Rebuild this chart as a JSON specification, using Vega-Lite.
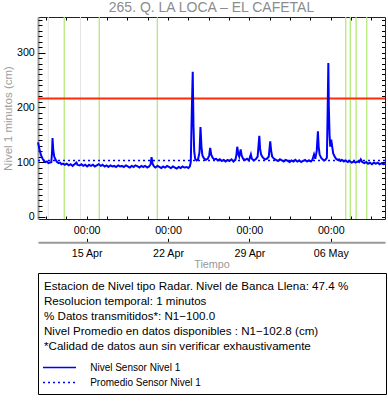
{
  "$schema": "https://vega.github.io/schema/vega-lite/v6.json",
  "width": 347,
  "height": 202,
  "autosize": {"type": "none"},
  "padding": {"left": 38, "top": 17, "right": 3, "bottom": 185},
  "title": {"text": "265. Q. LA LOCA – EL CAFETAL", "frame": "group", "anchor": "middle", "offset": 1, "fontSize": 14, "fontWeight": "normal", "color": "#8c8c8c", "font": "Liberation Sans"},
  "datasets": {
    "grises": [{"fecha": "2024-04-11T16:40"}, {"fecha": "2024-04-14T11:15"}],
    "verdes": [
      {"fecha": "2024-04-13T01:40"}, {"fecha": "2024-04-16T02:00"}, {"fecha": "2024-04-21T01:50"},
      {"fecha": "2024-05-07T07:00"}, {"fecha": "2024-05-07T16:20"}, {"fecha": "2024-05-08T04:20"}, {"fecha": "2024-05-09T02:20"}
    ],
    "umbral": [{"nivel": 216}],
    "promedio": [{"serie": "Promedio Sensor Nivel 1", "nivel": 102.8}],
    "sensor": [
      {"fecha": "2024-04-10T19:30", "nivel": 136}, {"fecha": "2024-04-10T21:00", "nivel": 130}, {"fecha": "2024-04-10T23:00", "nivel": 121},
      {"fecha": "2024-04-11T02:00", "nivel": 112}, {"fecha": "2024-04-11T05:00", "nivel": 106}, {"fecha": "2024-04-11T08:00", "nivel": 102},
      {"fecha": "2024-04-11T11:00", "nivel": 100}, {"fecha": "2024-04-11T14:00", "nivel": 101}, {"fecha": "2024-04-11T17:00", "nivel": 98},
      {"fecha": "2024-04-11T20:00", "nivel": 99}, {"fecha": "2024-04-11T23:00", "nivel": 100},
      {"fecha": "2024-04-12T00:30", "nivel": 118}, {"fecha": "2024-04-12T01:30", "nivel": 144}, {"fecha": "2024-04-12T03:00", "nivel": 122},
      {"fecha": "2024-04-12T05:00", "nivel": 110}, {"fecha": "2024-04-12T08:00", "nivel": 104}, {"fecha": "2024-04-12T11:00", "nivel": 100},
      {"fecha": "2024-04-12T14:00", "nivel": 98}, {"fecha": "2024-04-12T17:00", "nivel": 99}, {"fecha": "2024-04-12T20:00", "nivel": 96},
      {"fecha": "2024-04-12T23:00", "nivel": 97},
      {"fecha": "2024-04-13T03:00", "nivel": 95}, {"fecha": "2024-04-13T07:00", "nivel": 97}, {"fecha": "2024-04-13T11:00", "nivel": 94},
      {"fecha": "2024-04-13T15:00", "nivel": 96}, {"fecha": "2024-04-13T19:00", "nivel": 93}, {"fecha": "2024-04-13T23:00", "nivel": 96},
      {"fecha": "2024-04-14T03:00", "nivel": 99}, {"fecha": "2024-04-14T05:00", "nivel": 95}, {"fecha": "2024-04-14T09:00", "nivel": 94},
      {"fecha": "2024-04-14T13:00", "nivel": 96}, {"fecha": "2024-04-14T17:00", "nivel": 93}, {"fecha": "2024-04-14T21:00", "nivel": 95},
      {"fecha": "2024-04-15T01:00", "nivel": 92}, {"fecha": "2024-04-15T05:00", "nivel": 95}, {"fecha": "2024-04-15T09:00", "nivel": 93},
      {"fecha": "2024-04-15T13:00", "nivel": 95}, {"fecha": "2024-04-15T17:00", "nivel": 92}, {"fecha": "2024-04-15T21:00", "nivel": 94},
      {"fecha": "2024-04-16T01:00", "nivel": 96}, {"fecha": "2024-04-16T05:00", "nivel": 93}, {"fecha": "2024-04-16T09:00", "nivel": 95},
      {"fecha": "2024-04-16T13:00", "nivel": 92}, {"fecha": "2024-04-16T17:00", "nivel": 94}, {"fecha": "2024-04-16T21:00", "nivel": 91},
      {"fecha": "2024-04-17T01:00", "nivel": 94}, {"fecha": "2024-04-17T05:00", "nivel": 92}, {"fecha": "2024-04-17T09:00", "nivel": 93},
      {"fecha": "2024-04-17T13:00", "nivel": 91}, {"fecha": "2024-04-17T17:00", "nivel": 94}, {"fecha": "2024-04-17T21:00", "nivel": 92},
      {"fecha": "2024-04-18T01:00", "nivel": 93}, {"fecha": "2024-04-18T05:00", "nivel": 91}, {"fecha": "2024-04-18T09:00", "nivel": 94},
      {"fecha": "2024-04-18T13:00", "nivel": 92}, {"fecha": "2024-04-18T17:00", "nivel": 90}, {"fecha": "2024-04-18T21:00", "nivel": 93},
      {"fecha": "2024-04-19T01:00", "nivel": 91}, {"fecha": "2024-04-19T05:00", "nivel": 94}, {"fecha": "2024-04-19T09:00", "nivel": 92},
      {"fecha": "2024-04-19T13:00", "nivel": 90}, {"fecha": "2024-04-19T17:00", "nivel": 93}, {"fecha": "2024-04-19T21:00", "nivel": 91},
      {"fecha": "2024-04-20T01:00", "nivel": 93}, {"fecha": "2024-04-20T05:00", "nivel": 90}, {"fecha": "2024-04-20T09:00", "nivel": 92},
      {"fecha": "2024-04-20T12:00", "nivel": 96}, {"fecha": "2024-04-20T14:00", "nivel": 109}, {"fecha": "2024-04-20T16:00", "nivel": 97},
      {"fecha": "2024-04-20T19:00", "nivel": 92}, {"fecha": "2024-04-20T22:00", "nivel": 90},
      {"fecha": "2024-04-21T02:00", "nivel": 93}, {"fecha": "2024-04-21T06:00", "nivel": 91}, {"fecha": "2024-04-21T10:00", "nivel": 89},
      {"fecha": "2024-04-21T14:00", "nivel": 92}, {"fecha": "2024-04-21T18:00", "nivel": 90}, {"fecha": "2024-04-21T22:00", "nivel": 93},
      {"fecha": "2024-04-22T02:00", "nivel": 91}, {"fecha": "2024-04-22T06:00", "nivel": 89}, {"fecha": "2024-04-22T10:00", "nivel": 92},
      {"fecha": "2024-04-22T14:00", "nivel": 90}, {"fecha": "2024-04-22T18:00", "nivel": 88}, {"fecha": "2024-04-22T22:00", "nivel": 91},
      {"fecha": "2024-04-23T02:00", "nivel": 89}, {"fecha": "2024-04-23T06:00", "nivel": 92}, {"fecha": "2024-04-23T10:00", "nivel": 90},
      {"fecha": "2024-04-23T14:00", "nivel": 91}, {"fecha": "2024-04-23T18:00", "nivel": 89}, {"fecha": "2024-04-23T21:00", "nivel": 92},
      {"fecha": "2024-04-23T23:00", "nivel": 100},
      {"fecha": "2024-04-24T01:00", "nivel": 190}, {"fecha": "2024-04-24T03:00", "nivel": 265}, {"fecha": "2024-04-24T04:30", "nivel": 170},
      {"fecha": "2024-04-24T06:00", "nivel": 120}, {"fecha": "2024-04-24T08:00", "nivel": 106}, {"fecha": "2024-04-24T11:00", "nivel": 103},
      {"fecha": "2024-04-24T14:00", "nivel": 105}, {"fecha": "2024-04-24T17:00", "nivel": 118}, {"fecha": "2024-04-24T19:00", "nivel": 164},
      {"fecha": "2024-04-24T21:00", "nivel": 128}, {"fecha": "2024-04-24T23:00", "nivel": 112},
      {"fecha": "2024-04-25T02:00", "nivel": 107}, {"fecha": "2024-04-25T06:00", "nivel": 104}, {"fecha": "2024-04-25T10:00", "nivel": 106},
      {"fecha": "2024-04-25T13:00", "nivel": 112}, {"fecha": "2024-04-25T15:00", "nivel": 126}, {"fecha": "2024-04-25T17:00", "nivel": 114},
      {"fecha": "2024-04-25T20:00", "nivel": 108}, {"fecha": "2024-04-25T23:00", "nivel": 105},
      {"fecha": "2024-04-26T03:00", "nivel": 106}, {"fecha": "2024-04-26T07:00", "nivel": 103}, {"fecha": "2024-04-26T11:00", "nivel": 105},
      {"fecha": "2024-04-26T15:00", "nivel": 102}, {"fecha": "2024-04-26T19:00", "nivel": 104}, {"fecha": "2024-04-26T23:00", "nivel": 101},
      {"fecha": "2024-04-27T03:00", "nivel": 104}, {"fecha": "2024-04-27T07:00", "nivel": 102}, {"fecha": "2024-04-27T11:00", "nivel": 105},
      {"fecha": "2024-04-27T15:00", "nivel": 101}, {"fecha": "2024-04-27T19:00", "nivel": 104}, {"fecha": "2024-04-27T21:00", "nivel": 112},
      {"fecha": "2024-04-27T23:00", "nivel": 128},
      {"fecha": "2024-04-28T01:00", "nivel": 115}, {"fecha": "2024-04-28T03:00", "nivel": 110}, {"fecha": "2024-04-28T06:00", "nivel": 123},
      {"fecha": "2024-04-28T08:00", "nivel": 112}, {"fecha": "2024-04-28T11:00", "nivel": 106}, {"fecha": "2024-04-28T15:00", "nivel": 104},
      {"fecha": "2024-04-28T19:00", "nivel": 106}, {"fecha": "2024-04-28T23:00", "nivel": 103},
      {"fecha": "2024-04-29T03:00", "nivel": 114}, {"fecha": "2024-04-29T05:00", "nivel": 106}, {"fecha": "2024-04-29T09:00", "nivel": 103},
      {"fecha": "2024-04-29T13:00", "nivel": 105}, {"fecha": "2024-04-29T17:00", "nivel": 110}, {"fecha": "2024-04-29T20:30", "nivel": 148},
      {"fecha": "2024-04-29T22:00", "nivel": 125},
      {"fecha": "2024-04-30T00:00", "nivel": 114}, {"fecha": "2024-04-30T04:00", "nivel": 108}, {"fecha": "2024-04-30T08:00", "nivel": 105},
      {"fecha": "2024-04-30T12:00", "nivel": 106}, {"fecha": "2024-04-30T16:00", "nivel": 110}, {"fecha": "2024-04-30T19:00", "nivel": 138},
      {"fecha": "2024-04-30T21:00", "nivel": 120}, {"fecha": "2024-04-30T23:00", "nivel": 110},
      {"fecha": "2024-05-01T03:00", "nivel": 106}, {"fecha": "2024-05-01T07:00", "nivel": 104}, {"fecha": "2024-05-01T11:00", "nivel": 102},
      {"fecha": "2024-05-01T15:00", "nivel": 105}, {"fecha": "2024-05-01T19:00", "nivel": 103}, {"fecha": "2024-05-01T23:00", "nivel": 101},
      {"fecha": "2024-05-02T03:00", "nivel": 104}, {"fecha": "2024-05-02T07:00", "nivel": 102}, {"fecha": "2024-05-02T11:00", "nivel": 100},
      {"fecha": "2024-05-02T15:00", "nivel": 103}, {"fecha": "2024-05-02T19:00", "nivel": 101}, {"fecha": "2024-05-02T23:00", "nivel": 104},
      {"fecha": "2024-05-03T03:00", "nivel": 101}, {"fecha": "2024-05-03T07:00", "nivel": 103}, {"fecha": "2024-05-03T11:00", "nivel": 100},
      {"fecha": "2024-05-03T15:00", "nivel": 102}, {"fecha": "2024-05-03T19:00", "nivel": 104}, {"fecha": "2024-05-03T23:00", "nivel": 101},
      {"fecha": "2024-05-04T03:00", "nivel": 103}, {"fecha": "2024-05-04T07:00", "nivel": 101}, {"fecha": "2024-05-04T10:00", "nivel": 104},
      {"fecha": "2024-05-04T13:30", "nivel": 114}, {"fecha": "2024-05-04T16:00", "nivel": 106}, {"fecha": "2024-05-04T19:00", "nivel": 120},
      {"fecha": "2024-05-04T21:30", "nivel": 156}, {"fecha": "2024-05-04T23:00", "nivel": 128},
      {"fecha": "2024-05-05T01:00", "nivel": 114}, {"fecha": "2024-05-05T04:00", "nivel": 108}, {"fecha": "2024-05-05T07:00", "nivel": 105},
      {"fecha": "2024-05-05T10:00", "nivel": 103}, {"fecha": "2024-05-05T13:00", "nivel": 104}, {"fecha": "2024-05-05T16:00", "nivel": 108},
      {"fecha": "2024-05-05T17:30", "nivel": 190}, {"fecha": "2024-05-05T19:00", "nivel": 281}, {"fecha": "2024-05-05T20:00", "nivel": 200},
      {"fecha": "2024-05-05T21:30", "nivel": 150}, {"fecha": "2024-05-05T23:00", "nivel": 128},
      {"fecha": "2024-05-06T01:00", "nivel": 141}, {"fecha": "2024-05-06T03:00", "nivel": 128}, {"fecha": "2024-05-06T05:00", "nivel": 116},
      {"fecha": "2024-05-06T08:00", "nivel": 110}, {"fecha": "2024-05-06T11:00", "nivel": 106}, {"fecha": "2024-05-06T14:00", "nivel": 104},
      {"fecha": "2024-05-06T17:00", "nivel": 105}, {"fecha": "2024-05-06T20:00", "nivel": 102}, {"fecha": "2024-05-06T23:00", "nivel": 104},
      {"fecha": "2024-05-07T03:00", "nivel": 101}, {"fecha": "2024-05-07T07:00", "nivel": 103}, {"fecha": "2024-05-07T11:00", "nivel": 100},
      {"fecha": "2024-05-07T15:00", "nivel": 102}, {"fecha": "2024-05-07T19:00", "nivel": 99}, {"fecha": "2024-05-07T23:00", "nivel": 101},
      {"fecha": "2024-05-08T03:00", "nivel": 99}, {"fecha": "2024-05-08T07:00", "nivel": 101}, {"fecha": "2024-05-08T11:00", "nivel": 100},
      {"fecha": "2024-05-08T14:00", "nivel": 105}, {"fecha": "2024-05-08T17:00", "nivel": 100}, {"fecha": "2024-05-08T21:00", "nivel": 98},
      {"fecha": "2024-05-09T01:00", "nivel": 100}, {"fecha": "2024-05-09T05:00", "nivel": 97}, {"fecha": "2024-05-09T09:00", "nivel": 99},
      {"fecha": "2024-05-09T13:00", "nivel": 96}, {"fecha": "2024-05-09T17:00", "nivel": 99}, {"fecha": "2024-05-09T21:00", "nivel": 97},
      {"fecha": "2024-05-10T01:00", "nivel": 99}, {"fecha": "2024-05-10T05:00", "nivel": 96}, {"fecha": "2024-05-10T09:00", "nivel": 98},
      {"fecha": "2024-05-10T13:00", "nivel": 96}, {"fecha": "2024-05-10T16:00", "nivel": 97}
    ]
  },
  "layer": [
    {
      "data": {"name": "grises"},
      "mark": {"type": "rule", "color": "#e4e4e4", "strokeWidth": 1},
      "encoding": {
        "x": {
          "field": "fecha", "type": "temporal",
          "scale": {"domain": [{"year": 2024, "month": 4, "date": 10, "hours": 19, "minutes": 30}, {"year": 2024, "month": 5, "date": 10, "hours": 16}], "nice": false},
          "axis": {
            "orient": "bottom", "title": null, "format": "%H:%M",
            "labelExpr": "datum.label == '00:00' ? datum.label : ''",
            "values": [
              {"year": 2024, "month": 4, "date": 11, "hours": 12}, {"year": 2024, "month": 4, "date": 13, "hours": 6},
              {"year": 2024, "month": 4, "date": 15, "hours": 0}, {"year": 2024, "month": 4, "date": 16, "hours": 18},
              {"year": 2024, "month": 4, "date": 18, "hours": 12}, {"year": 2024, "month": 4, "date": 20, "hours": 6},
              {"year": 2024, "month": 4, "date": 22, "hours": 0}, {"year": 2024, "month": 4, "date": 23, "hours": 18},
              {"year": 2024, "month": 4, "date": 25, "hours": 12}, {"year": 2024, "month": 4, "date": 27, "hours": 6},
              {"year": 2024, "month": 4, "date": 29, "hours": 0}, {"year": 2024, "month": 4, "date": 30, "hours": 18},
              {"year": 2024, "month": 5, "date": 2, "hours": 12}, {"year": 2024, "month": 5, "date": 4, "hours": 6},
              {"year": 2024, "month": 5, "date": 6, "hours": 0}, {"year": 2024, "month": 5, "date": 7, "hours": 18},
              {"year": 2024, "month": 5, "date": 9, "hours": 12}
            ],
            "tickSize": -3, "tickColor": "#000", "labelPadding": 9.3,
            "domainColor": "#222", "domainWidth": 1.2,
            "labelFontSize": 10.7, "labelColor": "#000", "labelFlush": false, "labelOverlap": false
          }
        }
      }
    },
    {
      "data": {"name": "verdes"},
      "mark": {"type": "rule", "color": "#aee870", "strokeWidth": 1.2},
      "encoding": {
        "x": {
          "field": "fecha", "type": "temporal",
          "scale": {"domain": [{"year": 2024, "month": 4, "date": 10, "hours": 19, "minutes": 30}, {"year": 2024, "month": 5, "date": 10, "hours": 16}], "nice": false},
          "axis": {
            "orient": "bottom", "offset": 23.3, "format": "%d %b",
            "values": [
              {"year": 2024, "month": 4, "date": 15, "hours": 0}, {"year": 2024, "month": 4, "date": 22, "hours": 0},
              {"year": 2024, "month": 4, "date": 29, "hours": 0}, {"year": 2024, "month": 5, "date": 6, "hours": 0}
            ],
            "tickSize": -4, "tickColor": "#000", "labelPadding": 9.7,
            "domainColor": "#999999", "domainWidth": 2,
            "labelFontSize": 10.7, "labelColor": "#000", "labelFlush": false, "labelOverlap": false,
            "title": "Tiempo", "titleColor": "#999999", "titleFontSize": 10.8, "titleFontWeight": "normal", "titlePadding": 1
          }
        }
      }
    },
    {
      "data": {"name": "umbral"},
      "mark": {"type": "rule", "color": "#ff2a0a", "strokeWidth": 2},
      "encoding": {
        "y": {
          "field": "nivel", "type": "quantitative",
          "scale": {"domain": [-4, 365], "nice": false, "zero": false},
          "axis": {
            "orient": "right", "title": null, "labels": false,
            "values": [0, 10, 20, 30, 40, 50, 60, 70, 80, 90, 100, 110, 120, 130, 140, 150, 160, 170, 180, 190, 200, 210, 220, 230, 240, 250, 260, 270, 280, 290, 300, 310, 320, 330, 340, 350, 360],
            "tickSize": -3.5, "tickColor": "#000", "domainColor": "#222", "domainWidth": 1
          }
        }
      }
    },
    {
      "data": {"name": "sensor"},
      "transform": [{"calculate": "'Nivel Sensor Nivel 1'", "as": "serie"}],
      "mark": {"type": "line", "strokeWidth": 2},
      "encoding": {
        "x": {
          "field": "fecha", "type": "temporal",
          "scale": {"domain": [{"year": 2024, "month": 4, "date": 10, "hours": 19, "minutes": 30}, {"year": 2024, "month": 5, "date": 10, "hours": 16}], "nice": false},
          "axis": {
            "orient": "top", "title": null, "labels": false,
            "values": [
              {"year": 2024, "month": 4, "date": 11, "hours": 12}, {"year": 2024, "month": 4, "date": 13, "hours": 6},
              {"year": 2024, "month": 4, "date": 15, "hours": 0}, {"year": 2024, "month": 4, "date": 16, "hours": 18},
              {"year": 2024, "month": 4, "date": 18, "hours": 12}, {"year": 2024, "month": 4, "date": 20, "hours": 6},
              {"year": 2024, "month": 4, "date": 22, "hours": 0}, {"year": 2024, "month": 4, "date": 23, "hours": 18},
              {"year": 2024, "month": 4, "date": 25, "hours": 12}, {"year": 2024, "month": 4, "date": 27, "hours": 6},
              {"year": 2024, "month": 4, "date": 29, "hours": 0}, {"year": 2024, "month": 4, "date": 30, "hours": 18},
              {"year": 2024, "month": 5, "date": 2, "hours": 12}, {"year": 2024, "month": 5, "date": 4, "hours": 6},
              {"year": 2024, "month": 5, "date": 6, "hours": 0}, {"year": 2024, "month": 5, "date": 7, "hours": 18},
              {"year": 2024, "month": 5, "date": 9, "hours": 12}
            ],
            "tickSize": -3, "tickColor": "#000", "domainColor": "#222", "domainWidth": 1
          }
        },
        "y": {
          "field": "nivel", "type": "quantitative",
          "scale": {"domain": [-4, 365], "nice": false, "zero": false},
          "axis": {
            "orient": "left", "values": [0, 100, 200, 300],
            "tickSize": -7, "tickColor": "#000", "labelPadding": 10.7,
            "domainColor": "#9a9a9a", "domainWidth": 2,
            "labelFontSize": 10.7, "labelColor": "#000",
            "title": "Nivel 1 minutos (cm)", "titleColor": "#a0a0a0", "titleFontSize": 11.5, "titleFontWeight": "normal", "titlePadding": 3
          }
        },
        "color": {
          "field": "serie", "type": "nominal",
          "scale": {"domain": ["Nivel Sensor Nivel 1", "Promedio Sensor Nivel 1"], "range": ["#0000ff", "#0000ff"]},
          "title": ["Estacion de Nivel tipo Radar. Nivel de Banca Llena: 47.4 %\u00a0\u00a0\u00a0\u00a0\u00a0\u00a0\u00a0\u2800", "Resolucion temporal: 1 minutos", "% Datos transmitidos*: N1−100.0", "Nivel Promedio en datos disponibles : N1−102.8 (cm)", "*Calidad de datos aun sin verificar exhaustivamente"],
          "legend": {"orient": "none", "legendX": 0, "legendY": 256}
        },
        "strokeDash": {
          "field": "serie", "type": "nominal",
          "scale": {"domain": ["Nivel Sensor Nivel 1", "Promedio Sensor Nivel 1"], "range": [[1, 0], [2, 3]]},
          "title": ["Estacion de Nivel tipo Radar. Nivel de Banca Llena: 47.4 %\u00a0\u00a0\u00a0\u00a0\u00a0\u00a0\u00a0\u2800", "Resolucion temporal: 1 minutos", "% Datos transmitidos*: N1−100.0", "Nivel Promedio en datos disponibles : N1−102.8 (cm)", "*Calidad de datos aun sin verificar exhaustivamente"],
          "legend": {"orient": "none", "legendX": 0, "legendY": 256}
        }
      }
    },
    {
      "data": {"name": "promedio"},
      "mark": {"type": "rule", "strokeWidth": 1.5},
      "encoding": {
        "y": {
          "field": "nivel", "type": "quantitative",
          "scale": {"domain": [-4, 365], "nice": false, "zero": false},
          "axis": {
            "orient": "left", "title": null, "labels": false, "domain": false,
            "values": [0, 10, 20, 30, 40, 50, 60, 70, 80, 90, 100, 110, 120, 130, 140, 150, 160, 170, 180, 190, 200, 210, 220, 230, 240, 250, 260, 270, 280, 290, 300, 310, 320, 330, 340, 350, 360],
            "tickSize": -4, "tickColor": "#000"
          }
        },
        "color": {"field": "serie", "type": "nominal"},
        "strokeDash": {"field": "serie", "type": "nominal"}
      }
    }
  ],
  "resolve": {"axis": {"x": "independent", "y": "independent"}},
  "config": {
    "font": "Liberation Sans",
    "view": {"stroke": null},
    "axis": {"grid": false, "labelFont": "Liberation Sans", "titleFont": "Liberation Sans"},
    "legend": {
      "padding": 6, "strokeColor": "#000",
      "titleFont": "Liberation Sans", "titleFontSize": 11.6, "titleFontWeight": "normal", "titleColor": "#000",
      "titleLineHeight": 15, "titleBaseline": "line-top", "titleLimit": 600, "titlePadding": 11,
      "labelFont": "Liberation Sans", "labelFontSize": 10, "labelColor": "#000", "labelLimit": 400, "labelOffset": 24.7,
      "symbolType": "M-3.3,0H3.3", "symbolSize": 100, "symbolStrokeWidth": 1.5, "symbolOffset": 9.5,
      "rowPadding": 4, "direction": "vertical"
    }
  }
}
